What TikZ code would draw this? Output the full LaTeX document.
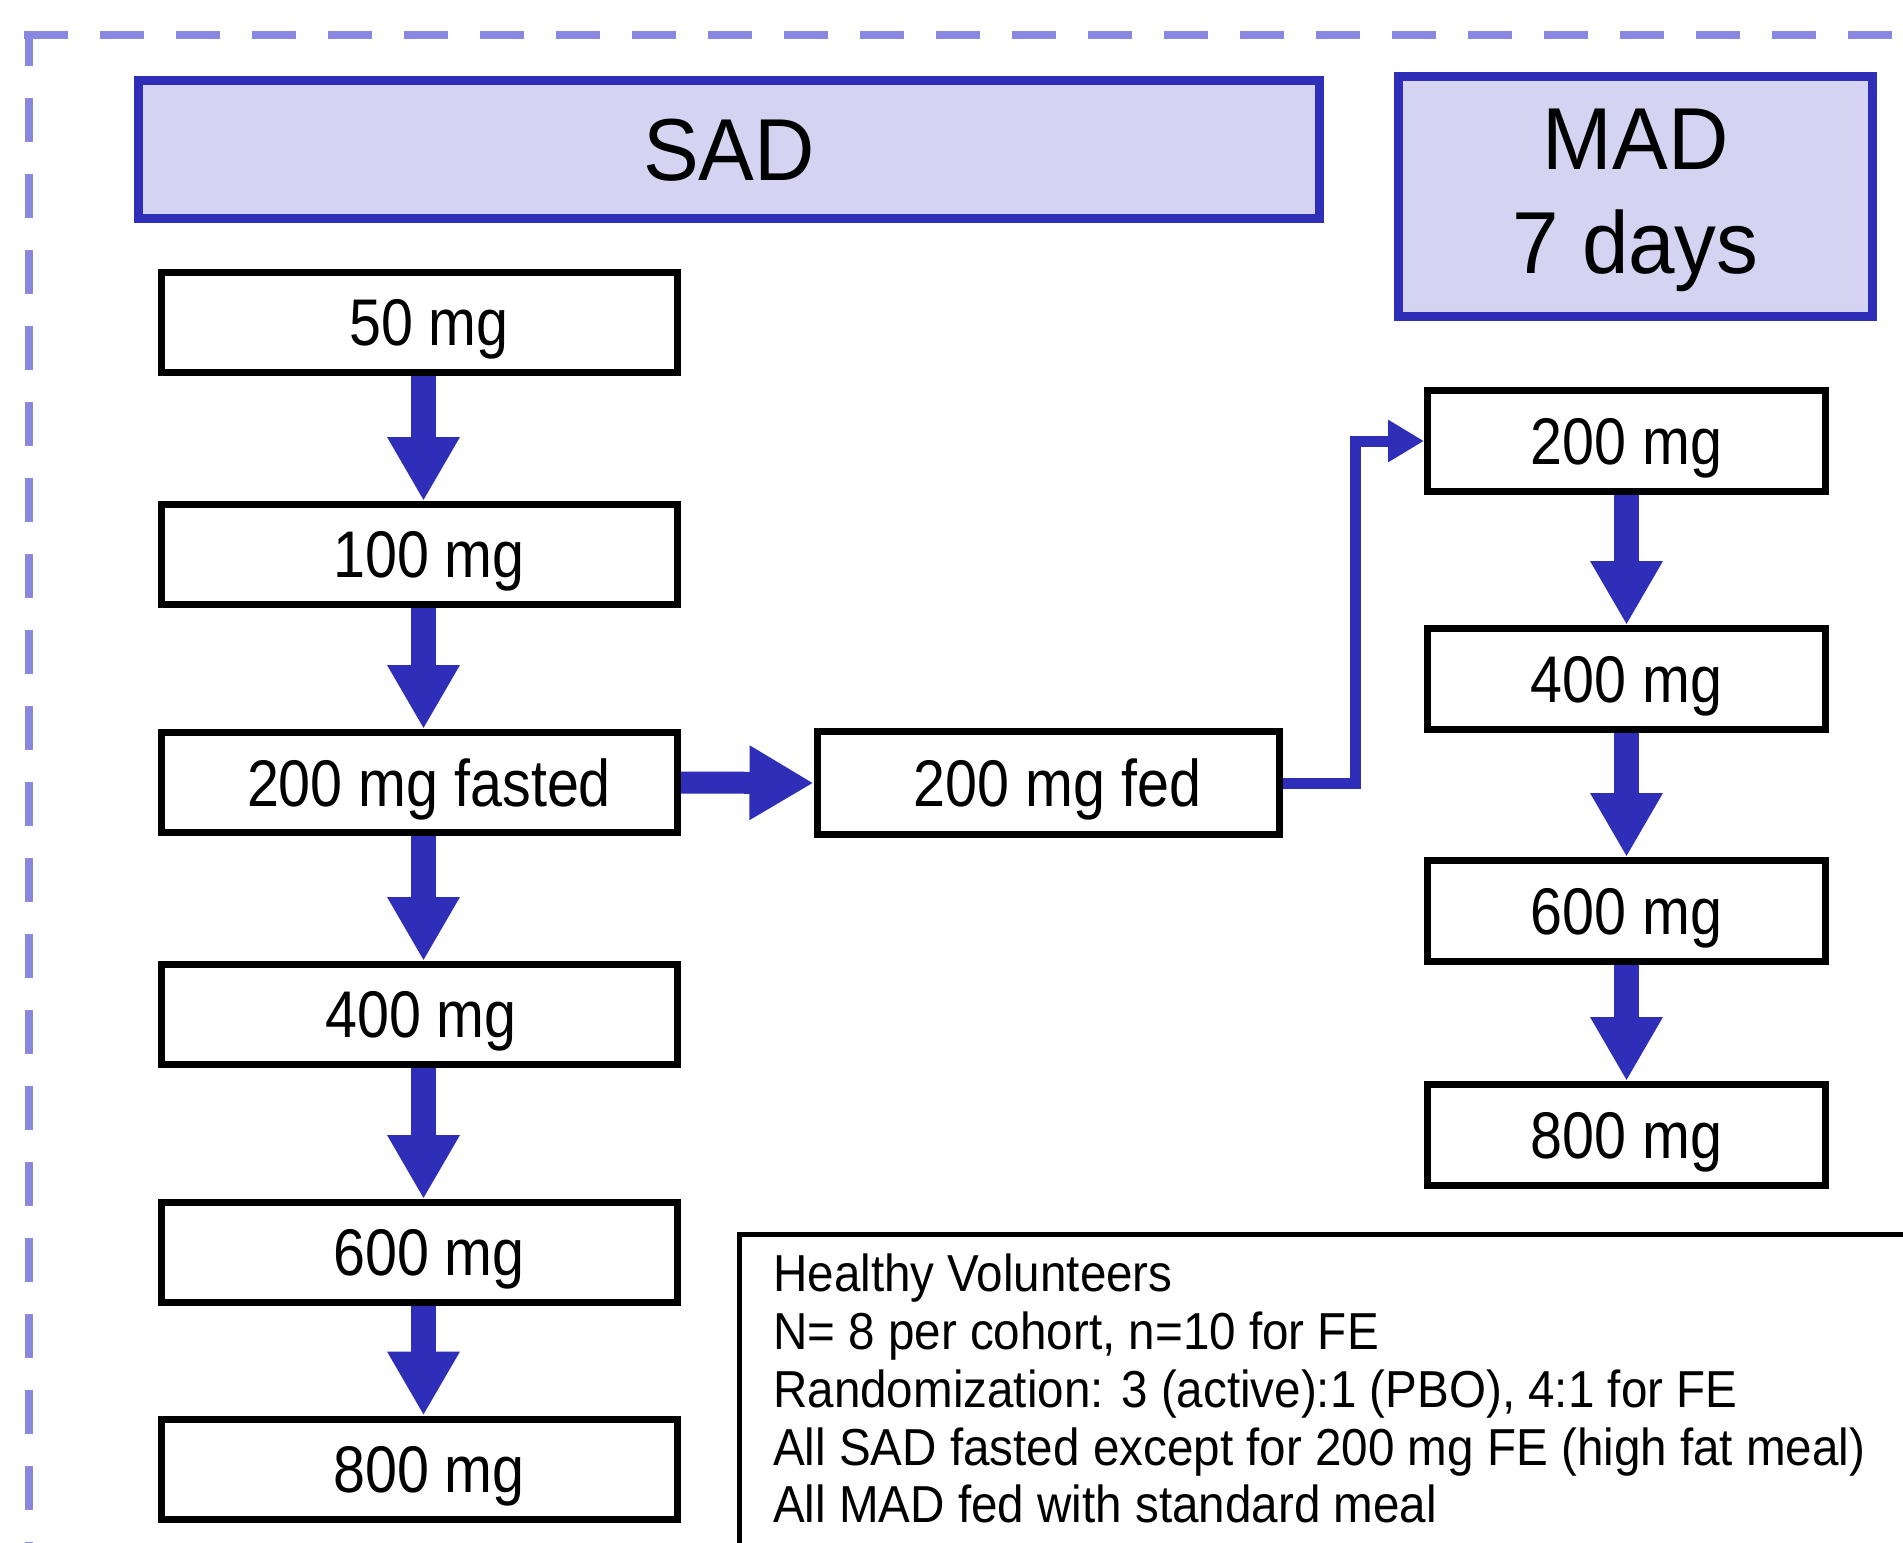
\documentclass[tikz,border=0pt]{standalone}
\usepackage{fontspec}
\setmainfont{Liberation Sans}
\newfontfamily\boxf[FakeStretch=0.87]{Liberation Sans}
\newfontfamily\hdrf[FakeStretch=0.95]{Liberation Sans}
\newfontfamily\legf[FakeStretch=0.915]{Liberation Sans}
\usetikzlibrary{arrows.meta}
\definecolor{dblue}{HTML}{2E2EB8}
\definecolor{lav}{HTML}{D4D4F2}
\definecolor{framec}{HTML}{8888E0}
\begin{document}
\begin{tikzpicture}[x=1pt,y=-1pt,
  dose/.style={draw=black,line width=7pt,fill=white,inner sep=0pt,text depth=0pt,
    font={\boxf\fontsize{66pt}{79pt}\selectfont}},
  sadbox/.style={dose,minimum width=516pt,minimum height=100pt},
  madbox/.style={dose,minimum width=398pt,minimum height=101pt},
  nudge/.style={execute at begin node={\hspace*{19pt}}},
  hdr/.style={draw=dblue,line width=9pt,fill=lav,inner sep=0pt,text depth=0pt,
    font={\hdrf\fontsize{88pt}{104pt}\selectfont}},
  hdrtext/.style={inner sep=0pt,align=center,font={\hdrf\fontsize{88pt}{104pt}\selectfont}},
  varrow/.style={dblue,line width=25pt,-{Triangle[width=68pt,length=64pt]}},
  harrow/.style={dblue,line width=22pt,-{Triangle[width=70pt,length=64pt]}},
  elbow/.style={dblue,line width=11pt,line join=miter,-{Triangle[width=40pt,length=36pt]}},
  legbox/.style={draw=black,line width=4.5pt,inner sep=0pt,minimum width=1400pt,minimum height=500pt},
  legtext/.style={inner sep=0pt,align=left,font={\legf\fontsize{52pt}{57.7pt}\selectfont}},
  dashframe/.style={framec,line width=8pt,dash pattern=on 44pt off 32pt}
]
\useasboundingbox (0,0) rectangle (1903,1542);
\fill[white] (0,0) rectangle (1903,1542);
\clip (0,0) rectangle (1903,1542);

% dashed outer frame (top and left visible)
\draw[dashframe] (24,34.5) -- (1950,34.5);
\draw[dashframe,dash phase=9pt] (28.5,31) -- (28.5,1600);

% headers
\node[hdr,minimum width=1181pt,minimum height=138pt] (hsad) at (729,149.5) {SAD};
\node[hdr,minimum width=474pt,minimum height=240pt] (hmad) at (1635.5,196) {};
\node[hdrtext] (hmadt) at ([yshift=-4pt]hmad.center) {MAD\\7 days};

% SAD column
\node[sadbox,nudge] (s50)  at (419.5,322.5) {50 mg};
\node[sadbox,nudge] (s100) at (419.5,554.5) {100 mg};
\node[sadbox,nudge] (s200) at (419.5,782.5) {200 mg fasted};
\node[sadbox,execute at begin node={\hspace*{3pt}}] (s400) at (419.5,1014.5) {400 mg};
\node[sadbox,nudge] (s600) at (419.5,1252.5) {600 mg};
\node[sadbox,nudge] (s800) at (419.5,1469) {800 mg};

% fed
\node[dose,nudge,minimum width=462pt,minimum height=103pt] (fed) at (1048,783) {200 mg fed};

% MAD column
\node[madbox] (m200) at (1626.5,441) {200 mg};
\node[madbox] (m400) at (1626.5,679) {400 mg};
\node[madbox] (m600) at (1626.5,911) {600 mg};
\node[madbox] (m800) at (1626.5,1135) {800 mg};

% arrows
\draw[varrow] ([xshift=4pt]s50.south) -- ([xshift=4pt]s100.north);
\draw[varrow] ([xshift=4pt]s100.south) -- ([xshift=4pt]s200.north);
\draw[varrow] ([xshift=4pt]s200.south) -- ([xshift=4pt]s400.north);
\draw[varrow] ([xshift=4pt]s400.south) -- ([xshift=4pt]s600.north);
\draw[varrow] ([xshift=4pt]s600.south) -- ([xshift=4pt]s800.north);
\draw[harrow] (s200.east) -- (fed.west);
\draw[elbow] (fed.east) -- ++(73,0) |- (m200.west);
\draw[varrow] (m200.south) -- (m400.north);
\draw[varrow] (m400.south) -- (m600.north);
\draw[varrow] (m600.south) -- (m800.north);

% legend
\node[legbox,anchor=north west] (leg) at (737,1232) {};
\node[legtext,anchor=north west] (legt) at (773,1254) {Healthy Volunteers\\
N= 8 per cohort, n=10 for FE\\
Randomization: 3 (active):1 (PBO), 4:1 for FE\\
All SAD fasted except for 200 mg FE (high fat meal)\\
All MAD fed with standard meal};
\end{tikzpicture}
\end{document}
